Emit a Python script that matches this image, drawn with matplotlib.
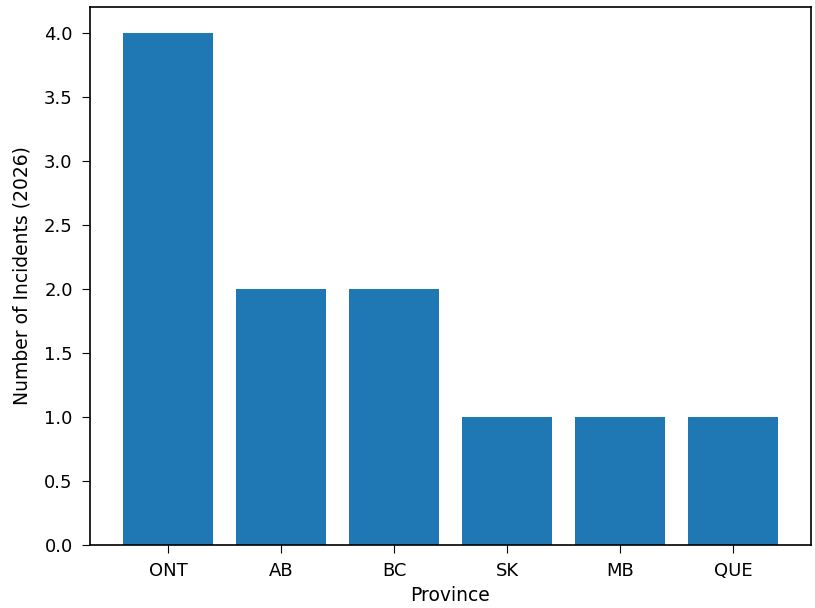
import matplotlib
matplotlib.use("Agg")
import matplotlib.pyplot as plt

provinces = ["ONT", "AB", "BC", "SK", "MB", "QUE"]
incidents = [4, 2, 2, 1, 1, 1]

fig = plt.figure(figsize=(8.15, 6.08), dpi=100)
ax = fig.add_axes([90 / 815, 63 / 608, 721 / 815, 538 / 608])

ax.bar(provinces, incidents, color="#1f77b4")
ax.set_xlabel("Province", fontsize=13.5, labelpad=4)
ax.set_ylabel("Number of Incidents (2026)", fontsize=13.5, labelpad=9)
ax.tick_params(labelsize=13, length=6, pad=6.5)
for s in ax.spines.values():
    s.set_linewidth(1.2)

fig.savefig("out.png", dpi=100)
